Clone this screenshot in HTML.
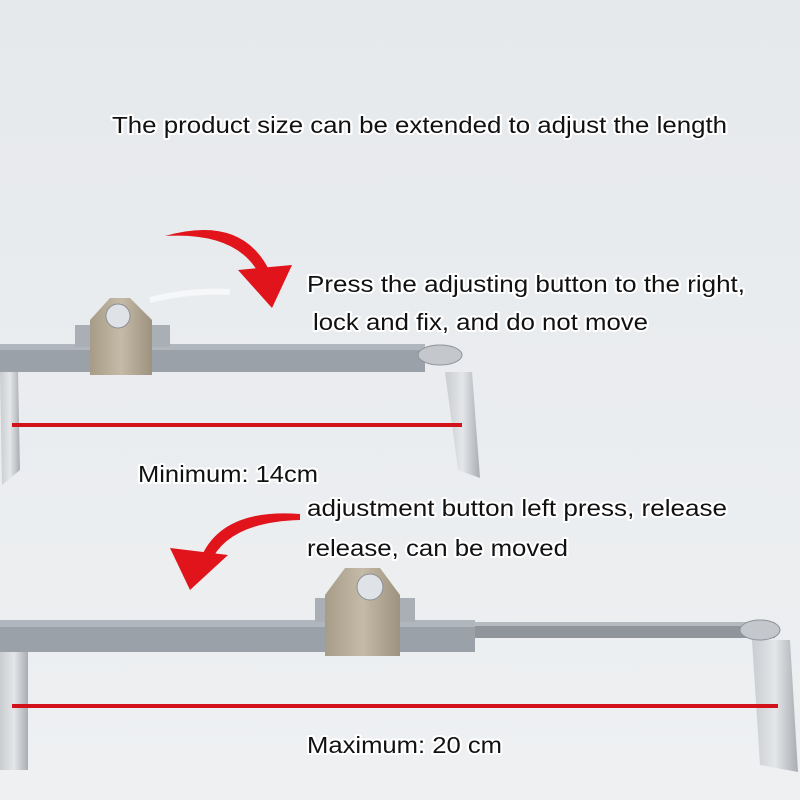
<!DOCTYPE html>
<html><head><style>
html,body{margin:0;padding:0;width:800px;height:800px;overflow:hidden;background:#eaedf0}
svg text{font-family:"Liberation Sans",sans-serif;font-size:23px;fill:#111;stroke:#fff;stroke-width:4px;paint-order:stroke;stroke-linejoin:round}
</style></head><body>
<svg width="800" height="800" viewBox="0 0 800 800" xmlns="http://www.w3.org/2000/svg">
<defs>
<linearGradient id="bg" x1="0" y1="0" x2="0" y2="1"><stop offset="0" stop-color="#e6e9ec"/><stop offset="1" stop-color="#eef0f2"/></linearGradient>
<linearGradient id="steel" x1="0" y1="0" x2="1" y2="0"><stop offset="0" stop-color="#c9ccd0"/><stop offset=".5" stop-color="#e4e6e9"/><stop offset="1" stop-color="#a9adb2"/></linearGradient>
<linearGradient id="tan" x1="0" y1="0" x2="1" y2="0"><stop offset="0" stop-color="#a79c88"/><stop offset=".5" stop-color="#c4baa7"/><stop offset="1" stop-color="#9d927e"/></linearGradient>
</defs>
<rect width="800" height="800" fill="url(#bg)"/>

<text x="112" y="133" textLength="615" lengthAdjust="spacingAndGlyphs">The product size can be extended to adjust the length</text>

<!-- top arrow -->
<path d="M165 236 Q240 215 268 268 L258 272 Q235 232 165 236Z" fill="#e0141a"/>
<path d="M238 270 L292 265 L272 308Z" fill="#e0141a"/>

<text x="307" y="292" textLength="438" lengthAdjust="spacingAndGlyphs">Press the adjusting button to the right,</text>
<text x="313" y="330" textLength="335" lengthAdjust="spacingAndGlyphs">lock and fix, and do not move</text>

<!-- top assembly -->
<polygon points="0,372 18,372 20,470 2,485" fill="url(#steel)"/>
<polygon points="445,372 472,372 480,478 458,470" fill="url(#steel)"/>
<rect x="0" y="344" width="425" height="28" fill="#9aa1a9"/>
<rect x="0" y="344" width="425" height="6" fill="#b0b6bd"/>
<rect x="75" y="325" width="95" height="22" fill="#a9afb5"/>
<path d="M90 320 L110 298 L130 298 L152 320 L152 375 L90 375Z" fill="url(#tan)"/>
<circle cx="118" cy="316" r="12" fill="#dfe2e6" stroke="#8c9096"/>
<path d="M150 300 Q190 290 230 292" stroke="#f6f7f8" stroke-width="6" fill="none"/>
<ellipse cx="440" cy="355" rx="22" ry="10" fill="#c4c8cc" stroke="#8e9399"/>
<rect x="12" y="423" width="450" height="4" fill="#d2121a"/>
<text x="138" y="482" textLength="180" lengthAdjust="spacingAndGlyphs">Minimum: 14cm</text>

<!-- bottom arrow -->
<path d="M300 514 Q220 508 200 560 L210 563 Q228 522 300 520Z" fill="#e0141a"/>
<path d="M170 548 L228 555 L190 590Z" fill="#e0141a"/>

<text x="307" y="516" textLength="420" lengthAdjust="spacingAndGlyphs">adjustment button left press, release</text>
<text x="307" y="556" textLength="261" lengthAdjust="spacingAndGlyphs">release, can be moved</text>

<!-- bottom assembly -->
<rect x="0" y="645" width="28" height="125" fill="url(#steel)"/>
<polygon points="752,640 790,640 798,772 760,765" fill="url(#steel)"/>
<rect x="470" y="622" width="305" height="16" fill="#8f959b"/>
<rect x="470" y="622" width="305" height="4" fill="#b5babf"/>
<rect x="0" y="620" width="475" height="32" fill="#9aa1a9"/>
<rect x="0" y="620" width="475" height="7" fill="#b0b6bd"/>
<rect x="315" y="598" width="100" height="24" fill="#a9afb5"/>
<path d="M325 595 L345 568 L380 568 L400 595 L400 656 L325 656Z" fill="url(#tan)"/>
<circle cx="370" cy="587" r="13" fill="#dfe2e6" stroke="#8c9096"/>
<ellipse cx="760" cy="630" rx="20" ry="10" fill="#c4c8cc" stroke="#8e9399"/>
<rect x="12" y="704" width="766" height="4" fill="#d2121a"/>
<text x="307" y="753" textLength="195" lengthAdjust="spacingAndGlyphs">Maximum: 20 cm</text>
</svg>
</body></html>
